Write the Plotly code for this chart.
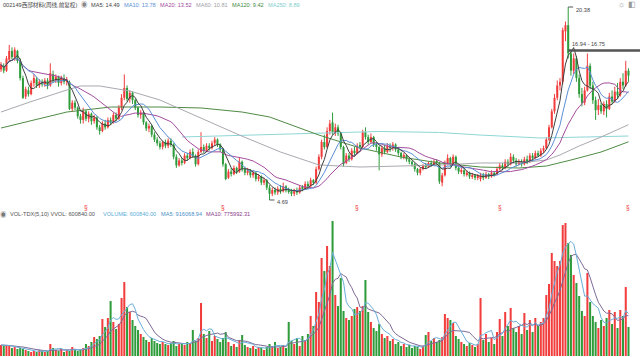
import plotly.graph_objects as go
import pandas as pd

# ---------------- data ----------------
opens = [15.3,15.6,15.2,16.1,16.8,16.3,16.8,16.0,14.6,13.1,
         13.6,13.3,14.2,14.5,14.0,14.3,14.1,14.4,14.0,14.9,
         14.4,14.7,14.2,14.6,14.3,14.3,12.1,12.6,12.2,11.5,
         11.2,11.9,11.3,11.7,11.1,11.4,10.6,10.3,10.9,10.6,
         11.2,11.0,11.6,11.3,12.2,13.0,13.8,12.9,13.4,12.8,
         12.2,11.6,11.8,11.0,10.5,10.7,10.0,9.6,9.3,9.0,
         9.4,9.1,9.5,9.2,8.2,7.5,7.9,7.7,8.3,8.1,
         8.6,8.3,7.6,8.6,9.0,8.7,9.1,8.9,9.3,9.6,
         9.2,8.8,7.6,6.5,7.0,6.8,7.3,7.0,7.8,7.2,
         6.9,7.1,6.7,6.9,6.4,6.6,6.1,6.3,5.7,5.2,
         5.5,5.3,5.6,5.4,5.8,5.5,5.4,5.2,5.5,5.3,
         5.7,5.6,6.0,5.8,6.3,6.1,7.2,8.2,9.4,9.0,
         10.3,11.0,10.2,10.6,10.1,9.0,7.7,8.3,8.0,8.7,
         8.5,9.1,9.0,10.2,9.8,9.4,9.8,9.2,9.0,8.4,
         8.9,8.6,9.1,8.9,9.2,8.8,8.5,8.2,8.3,8.0,
         7.8,7.6,7.2,6.9,7.2,7.5,7.4,7.7,7.6,7.8,
         7.7,6.1,6.7,7.7,8.1,7.6,8.2,7.3,7.0,7.1,
         6.8,6.9,6.6,6.7,6.5,6.4,6.7,6.5,6.8,6.6,
         6.9,6.8,7.2,7.5,7.3,7.8,7.6,8.2,7.9,7.6,
         7.8,7.6,8.0,7.8,8.3,8.1,8.5,8.3,8.7,8.9,
         9.6,10.6,11.9,13.0,14.0,14.3,18.4,18.9,16.6,15.2,
         16.2,14.6,13.3,12.6,13.6,15.6,14.0,12.8,12.0,12.4,
         11.9,12.5,12.1,13.1,12.7,13.5,13.2,14.3,14.0,15.2]
highs = [15.9,15.8,16.4,17.3,17.1,17.1,16.9,16.2,14.8,13.9,
         13.9,14.4,14.9,14.7,14.5,14.5,14.6,14.6,15.8,15.2,
         14.9,14.8,14.8,14.9,14.7,14.4,12.8,12.8,12.3,11.7,
         12.2,12.0,11.9,11.8,11.6,11.5,10.8,11.1,11.2,11.4,
         11.4,11.8,11.8,12.4,13.3,14.9,14.0,13.6,13.5,12.9,
         12.3,12.0,11.9,11.1,10.9,10.8,10.2,9.8,9.5,9.5,
         9.6,9.7,9.7,9.3,8.4,8.1,8.1,8.5,8.5,8.8,
         8.9,8.4,8.8,10.2,9.2,9.3,9.3,9.5,9.8,9.7,
         9.3,8.9,7.7,7.2,7.3,7.5,7.4,8.1,7.9,7.4,
         7.3,7.2,7.1,7.0,6.8,6.7,6.5,6.4,5.9,5.7,
         5.7,5.8,5.9,6.1,5.9,5.7,5.6,5.6,5.7,5.9,
         5.9,6.2,6.2,6.5,6.4,7.4,8.4,9.6,10.0,10.6,
         11.2,11.8,10.9,10.8,10.2,9.1,8.5,8.5,8.9,9.0,
         9.3,9.4,10.4,10.6,10.0,10.1,9.9,9.4,9.1,9.1,
         9.2,9.3,9.3,9.4,9.3,9.0,8.6,8.5,8.4,8.1,
         7.9,7.7,7.3,7.3,7.6,7.7,7.8,7.9,8.0,8.0,
         7.8,6.9,7.9,8.4,8.2,8.4,8.3,7.4,7.3,7.2,
         7.1,7.0,6.9,6.8,6.8,6.9,6.9,7.0,6.9,7.1,
         7.0,7.4,7.7,7.7,8.0,8.0,8.5,8.4,8.1,8.0,
         8.0,8.2,8.3,8.5,8.5,8.7,8.7,8.9,9.1,9.8,
         10.8,12.1,13.3,14.4,14.6,18.7,19.2,20.38,16.9,16.6,
         16.4,14.9,13.8,13.9,16.6,15.8,14.3,13.1,12.9,12.6,
         12.7,12.8,13.4,13.6,13.9,14.2,14.6,15.0,16.0,15.4]
lows = [15.1,15.0,15.1,15.9,16.1,16.0,15.8,14.4,12.9,12.9,
        13.1,13.2,13.9,13.8,13.8,13.9,13.9,13.7,13.9,14.2,
        14.2,13.9,14.0,14.1,14.0,12.0,11.9,12.0,11.3,10.9,
        10.9,11.1,11.0,10.8,10.9,10.4,10.0,10.2,10.4,10.5,
        10.8,10.9,11.1,11.2,12.0,12.8,12.7,12.6,12.5,12.0,
        11.4,11.3,10.8,10.3,10.2,9.8,9.4,9.1,8.8,8.8,
        8.9,8.9,9.0,8.0,7.3,7.4,7.5,7.6,7.9,8.0,
        8.1,7.4,7.5,8.5,8.5,8.6,8.7,8.8,9.1,9.0,
        8.6,7.4,6.3,6.4,6.6,6.7,6.8,6.9,7.0,6.7,
        6.7,6.5,6.5,6.2,6.2,5.9,5.9,5.5,4.69,5.0,
        5.1,5.1,5.2,5.3,5.3,5.2,5.0,5.0,5.1,5.2,
        5.4,5.5,5.6,5.7,5.9,6.0,7.1,8.0,8.8,8.9,
        10.0,10.0,9.9,9.9,8.8,7.4,7.6,7.8,7.9,8.3,
        8.4,8.8,8.9,9.6,9.2,9.3,9.0,8.7,7.1,8.2,
        8.4,8.5,8.6,8.7,8.6,8.3,8.0,8.0,7.8,7.6,
        7.4,7.0,6.7,6.7,7.1,7.2,7.3,7.4,7.5,7.5,
        6.0,5.8,6.6,7.5,7.4,7.5,7.1,6.8,6.8,6.6,
        6.6,6.4,6.4,6.3,6.3,6.2,6.3,6.4,6.4,6.5,
        6.6,6.7,7.1,7.1,7.2,7.4,7.5,7.7,7.4,7.5,
        7.4,7.5,7.6,7.7,7.9,8.0,8.2,8.2,8.5,8.8,
        9.5,10.5,11.7,12.8,13.6,14.1,17.6,16.2,14.8,14.9,
        14.3,13.0,12.3,12.4,13.5,13.7,12.5,11.2,11.6,11.7,
        11.6,11.4,12.0,12.5,12.6,12.9,13.1,13.7,13.9,14.3]
closes = [15.7,15.2,16.2,16.8,16.3,16.9,16.0,14.6,13.0,13.7,
          13.3,14.2,14.6,14.0,14.3,14.1,14.4,14.0,15.0,14.4,
          14.7,14.2,14.6,14.3,14.5,12.1,12.6,12.2,11.5,11.2,
          11.9,11.3,11.7,11.1,11.4,10.6,10.3,10.9,10.6,11.2,
          11.0,11.6,11.3,12.2,13.0,13.8,12.9,13.4,12.8,12.2,
          11.6,11.8,11.0,10.5,10.7,10.0,9.6,9.3,9.0,9.4,
          9.1,9.5,9.2,8.2,7.5,7.9,7.7,8.3,8.1,8.6,
          8.3,7.6,8.6,9.0,8.7,9.1,8.9,9.3,9.6,9.2,
          8.8,7.6,6.4,7.0,6.8,7.3,7.0,7.8,7.2,6.9,
          7.1,6.7,6.9,6.4,6.6,6.1,6.3,5.7,5.2,5.5,
          5.3,5.6,5.4,5.8,5.5,5.4,5.2,5.5,5.3,5.7,
          5.6,6.0,5.8,6.3,6.1,7.2,8.2,9.4,9.0,10.3,
          10.9,10.2,10.6,10.1,9.0,7.6,8.3,8.0,8.7,8.5,
          9.1,9.0,10.2,9.8,9.4,9.8,9.2,9.0,8.4,8.9,
          8.6,9.1,8.9,9.2,8.8,8.5,8.2,8.3,8.0,7.8,
          7.6,7.2,6.9,7.2,7.5,7.4,7.7,7.6,7.8,7.7,
          6.2,6.7,7.7,8.1,7.6,8.2,7.3,7.0,7.1,6.8,
          6.9,6.6,6.7,6.5,6.6,6.7,6.5,6.8,6.6,6.9,
          6.8,7.2,7.5,7.3,7.8,7.6,8.2,7.9,7.6,7.8,
          7.6,8.0,7.8,8.3,8.1,8.5,8.3,8.7,8.9,9.6,
          10.6,11.9,13.0,14.0,14.3,18.5,18.9,16.6,15.2,16.2,
          14.6,13.3,12.6,13.6,15.6,14.0,12.8,12.0,12.4,11.9,
          12.5,12.1,13.1,12.7,13.5,13.2,14.3,14.0,15.2,14.8]
volumes = [22,20,22,20,16,18,14,16,14,12,
           10,8,10,8,12,10,8,10,24,16,
           12,10,14,8,12,10,18,12,10,12,
           16,24,20,28,38,34,40,74,58,76,
           110,68,54,64,116,148,98,88,72,60,
           52,44,38,32,28,36,30,26,24,28,
           24,22,26,30,20,24,26,22,28,24,
           52,30,36,106,44,36,50,30,40,34,
           28,36,48,28,20,24,18,32,42,22,
           18,16,20,14,18,16,12,18,24,20,
           28,16,18,22,16,68,30,24,36,20,
           40,32,44,80,60,128,108,196,170,220,
           180,270,122,100,156,90,76,72,80,94,
           98,90,100,152,88,68,56,50,64,44,
           36,40,30,34,24,28,20,24,18,22,
           16,20,18,14,20,42,48,30,36,28,
           32,38,84,76,72,66,40,34,28,24,
           20,26,22,18,24,116,32,44,28,36,
           24,48,74,40,88,60,96,56,48,60,
           44,86,52,72,48,76,60,68,76,122,
           144,206,190,180,190,262,266,226,202,162,
           146,120,90,80,166,108,80,68,56,72,
           60,76,92,64,88,56,92,80,138,58]

ma60_idx = [0,10.6,24,29,36,47,58,73,87,102,116,131,146,160,175,189,199,204,211,219,229]
ma60_val = [11.84,12.66,13.63,13.96,13.96,13.55,12.82,11.36,9.97,8.59,7.54,7.37,7.45,7.53,7.70,7.70,7.94,8.35,9.08,9.81,10.81]
ma120_idx = [0,24,40,58,73,88,98,116,131,146,160,175,189,199,208,219,229]
ma120_val = [10.54,11.84,12.25,12.25,12.17,11.84,11.44,9.97,8.92,8.18,7.70,7.37,7.29,7.45,7.94,8.59,9.42]
ma250_idx = [66,91,116,138,160,175,197,211,229]
ma250_val = [9.81,9.97,10.14,10.26,10.18,9.97,9.73,9.81,9.89]

event_idx = [31, 81, 130, 182, 229]
hi_idx, hi_val = 207, 20.38
lo_idx, lo_val = 98, 4.69
band_lo, band_hi = 16.75, 16.94

RED = '#f23d3d'
GREEN = '#2f9c3c'

n = len(closes)
idx = list(range(n))
up = [c >= o for o, c in zip(opens, closes)]
cols = [RED if u else GREEN for u in up]

s = pd.Series(closes)
ma5 = s.rolling(5, min_periods=1).mean()
ma10 = s.rolling(10, min_periods=1).mean()
ma20 = s.rolling(20, min_periods=1).mean()
v = pd.Series(volumes)
vma5 = v.rolling(5, min_periods=1).mean()
vma10 = v.rolling(10, min_periods=1).mean()

fig = go.Figure()

# wicks
for flag, col in ((True, RED), (False, GREEN)):
    wx, wy = [], []
    for i in idx:
        if up[i] == flag:
            wx += [i, i, None]
            wy += [lows[i], highs[i], None]
    fig.add_trace(go.Scatter(x=wx, y=wy, mode='lines', line=dict(color=col, width=1),
                             hoverinfo='skip', showlegend=False))

# bodies
fig.add_trace(go.Bar(x=idx, y=[max(abs(c - o), 0.05) for o, c in zip(opens, closes)],
                     base=[min(o, c) for o, c in zip(opens, closes)],
                     width=0.74, marker=dict(color=cols, line=dict(width=0)), showlegend=False))

def line(x, y, col, w=1, xa='x', ya='y'):
    fig.add_trace(go.Scatter(x=x, y=y, mode='lines', line=dict(color=col, width=w),
                             xaxis=xa, yaxis=ya, hoverinfo='skip', showlegend=False))

line(ma250_idx, ma250_val, '#8fd6d6')
line(ma120_idx, ma120_val, '#4f8a44')
line(ma60_idx, ma60_val, '#a9a9b0')
line(idx, ma20, '#a34c9c')
line(idx, ma10, '#5a8ed6')
line(idx, ma5, '#404040')

# volume
fig.add_trace(go.Bar(x=idx, y=volumes, xaxis='x2', yaxis='y2', width=0.74,
                     marker=dict(color=cols, line=dict(width=0)), showlegend=False))
line(idx, vma10, '#7d6a98', 1, 'x2', 'y2')
line(idx, vma5, '#6aaed8', 1, 'x2', 'y2')

W, H = 640, 357
XR = [-0.365, 233.2]
fig.update_layout(
    width=W, height=H, margin=dict(l=0, r=0, t=0, b=0),
    paper_bgcolor='white', plot_bgcolor='white', barmode='overlay', showlegend=False,
    xaxis=dict(domain=[0, 1], range=XR, visible=False, anchor='y'),
    yaxis=dict(domain=[1 - 211 / H, 1], range=[3.795, 20.949], visible=False),
    xaxis2=dict(domain=[0, 1], range=XR, visible=False, anchor='y2', matches='x'),
    yaxis2=dict(domain=[1 - 356 / H, 1 - 219 / H], range=[0, 274], visible=False),
)

FONT = 'Liberation Sans, Noto Sans CJK SC, sans-serif'
FS = 5.6
anns = []
def txt(t, px, py, col='#444', size=FS, xanchor='left'):
    anns.append(dict(text=t, x=px / W, y=1 - py / H, xref='paper', yref='paper',
                     xanchor=xanchor, yanchor='middle', showarrow=False,
                     font=dict(family=FONT, size=size, color=col)))

txt('002149西部材料(周线,前复权)', 1, 5, '#444')
txt('◉', 84.5, 5, '#888', 6.5, 'center')
txt('MA5: 14.49', 89, 5, '#444')
txt('MA10: 13.78', 122, 5, '#5a8ed6')
txt('MA20: 13.52', 158, 5, '#a34c9c')
txt('MA60: 10.81', 194, 5, '#a0a0a8')
txt('MA120: 9.42', 230, 5, '#3f8a3f')
txt('MA250: 8.89', 266, 5, '#80cccc')
txt('☼', 621, 5, '#999', 8, 'center')
txt('◧', 632, 5, '#999', 8, 'center')

txt('◉', 3, 214, '#777', 6.5, 'center')
txt('VOL-TDX(5,10) VVOL: 600840.00', 8, 214, '#555')
txt('VOLUME: 600840.00', 101, 214, '#5aaed8')
txt('MA5: 916068.94', 159, 214, '#4a90c8')
txt('MA10: 775992.31', 204, 214, '#8a3a8a')

for e in event_idx:
    anns.append(dict(text='§', x=e, y=1 - 207 / H, xref='x', yref='paper', showarrow=False,
                     xanchor='center', yanchor='middle', font=dict(family=FONT, size=6.5, color=RED)))

anns.append(dict(text='20.38', x=hi_idx + 2.0, y=20.1, xref='x', yref='y', showarrow=False,
                 xanchor='left', yanchor='middle', font=dict(family=FONT, size=FS, color='#444')))
anns.append(dict(text='4.69', x=lo_idx + 2.0, y=4.55, xref='x', yref='y', showarrow=False,
                 xanchor='left', yanchor='middle', font=dict(family=FONT, size=FS, color='#444')))
anns.append(dict(text='16.94 - 16.75', x=hi_idx + 0.6, y=band_hi, xref='x', yref='y', showarrow=False,
                 xanchor='left', yanchor='bottom', font=dict(family=FONT, size=FS, color='#444')))
fig.update_layout(annotations=anns)

shapes = [
    dict(type='line', x0=hi_idx, x1=hi_idx + 1.8, y0=hi_val, y1=hi_val, xref='x', yref='y',
         line=dict(color='#555', width=1)),
    dict(type='line', x0=lo_idx, x1=lo_idx + 1.8, y0=lo_val, y1=lo_val, xref='x', yref='y',
         line=dict(color='#555', width=1)),
    dict(type='rect', x0=hi_idx, x1=XR[1], y0=band_lo, y1=band_hi, xref='x', yref='y',
         fillcolor='#555', line=dict(width=0)),
]
fig.update_layout(shapes=shapes)

fig.write_html('out.html')
